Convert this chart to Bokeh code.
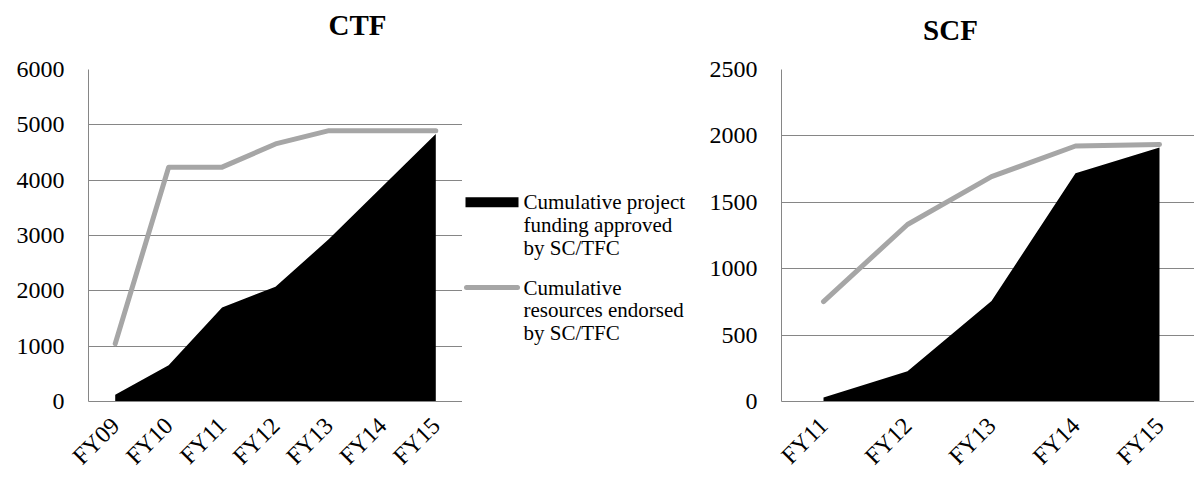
import math
from bokeh.plotting import figure
from bokeh.layouts import row, column
from bokeh.models import Range1d, FixedTicker, ColumnDataSource
from bokeh.core.properties import value
from bokeh.embed import file_html
from bokeh.resources import INLINE

# ---- data ----
ctf_years = ["FY09", "FY10", "FY11", "FY12", "FY13", "FY14", "FY15"]
ctf_funding = [120, 655, 1700, 2075, 2935, 3885, 4835]
ctf_resources = [1045, 4235, 4235, 4655, 4895, 4895, 4895]

scf_years = ["FY11", "FY12", "FY13", "FY14", "FY15"]
scf_funding = [30, 228, 757, 1718, 1912]
scf_resources = [752, 1333, 1693, 1924, 1936]

ctf_yticks = [0, 1000, 2000, 3000, 4000, 5000, 6000]
scf_yticks = [0, 500, 1000, 1500, 2000, 2500]

legend_labels = [
    ["Cumulative project", "funding approved", "by SC/TFC"],
    ["Cumulative", "resources endorsed", "by SC/TFC"],
]
titles = ["CTF", "SCF"]

FONT = "Liberation Serif"
GRID = "#868686"
LINE = "#a6a6a6"
TOP_H = 45
ROW_H = 481 - TOP_H
B_TOP = 69 - TOP_H
FRAME_H = 335
B_BOT = ROW_H - B_TOP - FRAME_H


def make_chart(years, funding, resources, yticks, width, border_left, x_end=None):
    n = len(years)
    xs = list(range(n))
    src = ColumnDataSource(dict(x=xs, funding=funding, resources=resources))
    x_end = (n - 0.5) if x_end is None else x_end
    p = figure(width=width, height=ROW_H, output_backend="svg", toolbar_location=None,
               x_range=Range1d(-0.5, x_end), y_range=Range1d(yticks[0], yticks[-1]),
               min_border_left=border_left, min_border_right=0,
               min_border_top=B_TOP, min_border_bottom=B_BOT)
    p.outline_line_color = None
    p.background_fill_color = "white"
    p.border_fill_color = "white"
    p.varea(x="x", y1=0, y2="funding", source=src, fill_color="black")
    p.line(x="x", y="resources", source=src, line_color=LINE, line_width=5, line_cap="round",
           line_join="round")

    p.xgrid.visible = False
    p.ygrid.grid_line_color = GRID
    p.ygrid.grid_line_width = 1
    p.ygrid.ticker = FixedTicker(ticks=yticks)

    ya = p.yaxis[0]
    ya.ticker = FixedTicker(ticks=yticks)
    ya.axis_line_color = GRID
    ya.major_tick_line_color = None
    ya.minor_tick_line_color = None
    ya.major_tick_out = 0
    ya.major_tick_in = 0
    ya.major_label_standoff = 24
    ya.major_label_text_font = FONT
    ya.major_label_text_font_size = "24px"
    ya.major_label_text_color = "black"

    xa = p.xaxis[0]
    xa.ticker = FixedTicker(ticks=xs)
    xa.major_label_overrides = {i: y for i, y in enumerate(years)}
    xa.axis_line_color = GRID
    xa.major_tick_line_color = None
    xa.minor_tick_line_color = None
    xa.major_tick_out = 0
    xa.major_tick_in = 0
    xa.major_label_orientation = math.pi / 4
    xa.major_label_standoff = 20
    xa.major_label_text_font = FONT
    xa.major_label_text_font_size = "24px"
    xa.major_label_text_color = "black"
    return p


# left chart: frame x 88..462
p1 = make_chart(ctf_years, ctf_funding, ctf_resources, ctf_yticks, width=462, border_left=88)

# right chart: frame x 781..1194 (cut by window edge)
cat_w = 84.0
p2 = make_chart(scf_years, scf_funding, scf_resources, scf_yticks, width=494,
                border_left=81, x_end=-0.5 + 413 / cat_w)

# legend panel: page x 462..700; data units = pixels from top-left of frame (page y 69)
leg = figure(width=238, height=ROW_H, output_backend="svg", toolbar_location=None,
             x_range=Range1d(0, 238), y_range=Range1d(FRAME_H, 0),
             min_border_left=0, min_border_right=0, min_border_top=B_TOP, min_border_bottom=B_BOT,
             outline_line_color=None)
leg.axis.visible = False
leg.grid.visible = False
leg.quad(left=3, right=56, top=129, bottom=139, fill_color="black", line_color=None)
leg.segment(x0=4, x1=55, y0=220, y1=220, line_color=LINE, line_width=5, line_cap="round")
line_ys = [[134, 157, 180], [220, 243, 266]]
for labels, ys in zip(legend_labels, line_ys):
    leg.text(x=[61] * len(labels), y=ys, text=labels, text_font=value(FONT),
             text_font_size="21px", text_baseline="middle", text_align="left", text_color="black")

# titles panel
top = figure(width=1194, height=TOP_H, output_backend="svg", toolbar_location=None,
             x_range=Range1d(0, 1194), y_range=Range1d(TOP_H, 0),
             min_border=0, outline_line_color=None)
top.axis.visible = False
top.grid.visible = False
top.text(x=[357, 950], y=[24, 29], text=titles, text_font=value(FONT), text_font_size="29px",
         text_font_style="bold", text_align="center", text_baseline="middle", text_color="black")

layout = column(top, row(p1, leg, p2, spacing=0), spacing=0)

with open("out.html", "w") as f:
    f.write(file_html(layout, INLINE))
